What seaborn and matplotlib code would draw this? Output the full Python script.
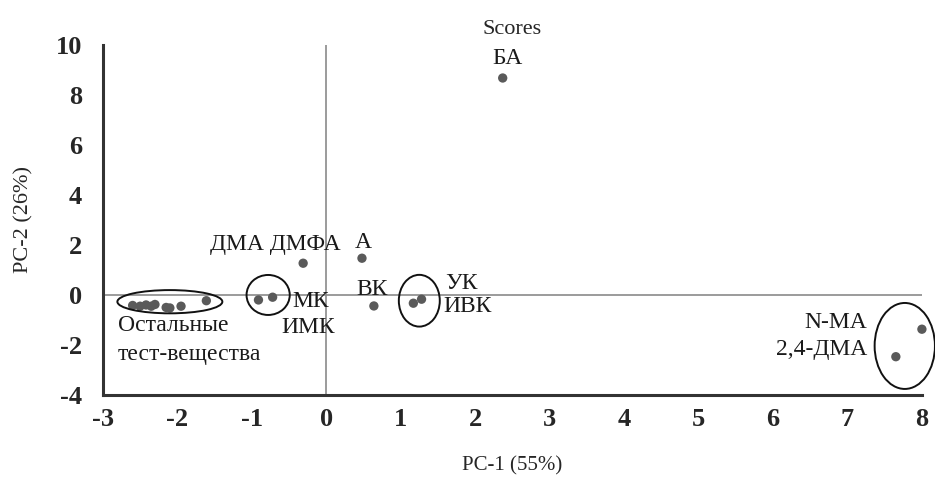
import numpy as np
import pandas as pd
import matplotlib
matplotlib.use("Agg")
import matplotlib.pyplot as plt
import seaborn as sns
from matplotlib.patches import Ellipse
from matplotlib.ticker import MultipleLocator

# scores
names = ["БА", "А", "ДМФА", "ВК", "МК", "ИМК", "УК", "ИВК", "N-MA", "2,4-ДМА",
         "r1", "r2", "r3", "r4", "r5", "r6", "r7", "r8", "r9"]
pc1 = [2.37, 0.48, -0.31, 0.64, -0.72, -0.91, 1.28, 1.17, 8.0, 7.65,
       -2.6, -2.5, -2.42, -2.35, -2.3, -2.15, -2.1, -1.95, -1.61]
pc2 = [8.68, 1.47, 1.27, -0.44, -0.09, -0.2, -0.17, -0.33, -1.37, -2.47,
       -0.42, -0.45, -0.4, -0.45, -0.38, -0.5, -0.52, -0.45, -0.23]

# group ellipses: centre x, centre y, width, height
ell_x = [-2.1, -0.78, 1.25, 7.77]
ell_y = [-0.27, 0.0, -0.23, -2.04]
ell_w = [1.41, 0.58, 0.55, 0.81]
ell_h = [0.93, 1.6, 2.07, 3.44]

# annotations: text, x, y, horizontal alignment
lab_text = ["БА", "ДМА ДМФА", "А", "МК", "ИМК", "ВК", "УК", "ИВК",
            "N-MA", "2,4-ДМА", "Остальные\nтест-вещества"]
lab_x = [2.43, -0.68, 0.5, -0.46, -0.6, 0.4, 1.6, 1.57, 7.27, 7.27, -2.8]
lab_y = [9.45, 2.0, 2.1, -0.25, -1.3, 0.2, 0.45, -0.45, -1.1, -2.2, -1.8]
lab_ha = ["center", "center", "center", "left", "left", "left", "left", "left",
          "right", "right", "left"]

df = pd.DataFrame({"name": names, "PC1": pc1, "PC2": pc2})

sns.set_style("white")
plt.rcParams["font.family"] = ["Liberation Serif", "DejaVu Serif"]
plt.rcParams["axes.unicode_minus"] = False

fig = plt.figure(figsize=(9.35, 4.84), dpi=100)
ax = fig.add_axes([0.110, 0.184, 0.876, 0.723])

ax.axhline(0, color="#8a8a8a", lw=1.2, zorder=1)
ax.axvline(0, color="#8a8a8a", lw=1.2, zorder=1)

sns.scatterplot(data=df, x="PC1", y="PC2", ax=ax, color="#5a5a5a",
                s=45, edgecolor="none", zorder=3, clip_on=False)

for cx, cy, w, h in zip(ell_x, ell_y, ell_w, ell_h):
    ax.add_patch(Ellipse((cx, cy), w, h, fill=False, ec="#111111",
                         lw=1.4, clip_on=False, zorder=4))

for t, x, y, ha in zip(lab_text, lab_x, lab_y, lab_ha):
    ax.text(x, y, t, ha=ha, va="center", fontsize=17, color="#1a1a1a",
            linespacing=1.45)

ax.set_xlim(-3, 8)
ax.set_ylim(-4, 10)
ax.xaxis.set_major_locator(MultipleLocator(1))
ax.xaxis.set_minor_locator(MultipleLocator(0.5))
ax.yaxis.set_major_locator(MultipleLocator(2))
ax.yaxis.set_minor_locator(MultipleLocator(1))

for side in ["top", "right"]:
    ax.spines[side].set_visible(False)
for side in ["left", "bottom"]:
    ax.spines[side].set_linewidth(2.2)
    ax.spines[side].set_color("#333333")

ax.tick_params(axis="y", which="both", direction="out", length=5, width=2.2,
               color="#555555", labelsize=19, pad=10)
ax.tick_params(axis="x", which="both", direction="inout", length=7, width=2.2,
               color="#555555", labelsize=19, pad=6)
for lbl in ax.get_xticklabels() + ax.get_yticklabels():
    lbl.set_fontweight("bold")

ax.set_xlabel("PC-1 (55%)", fontsize=15, labelpad=18)
ax.set_ylabel("PC-2 (26%)", fontsize=16, labelpad=16)
ax.set_title("Scores", fontsize=16, pad=8)

fig.savefig("out.png", dpi=100)
